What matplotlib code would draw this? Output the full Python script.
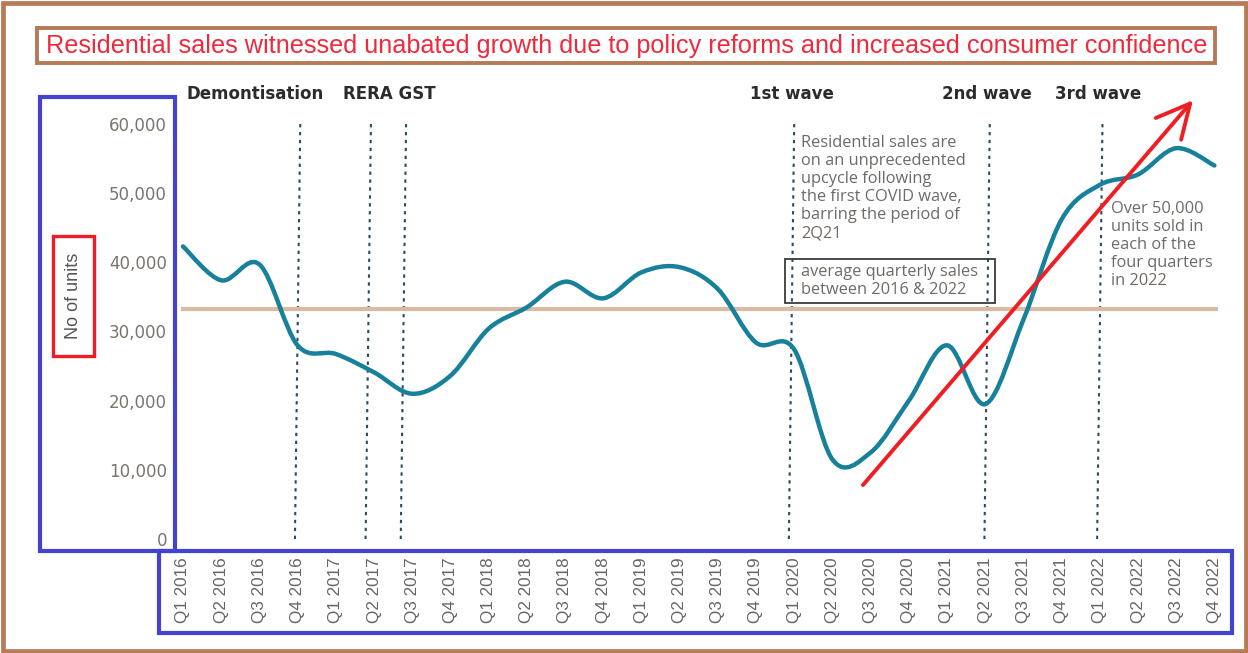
import matplotlib
matplotlib.use("Agg")
import matplotlib.pyplot as plt
import numpy as np
from matplotlib.path import Path
from matplotlib.patches import PathPatch, Rectangle

# DATA
years = [2016, 2017, 2018, 2019, 2020, 2021, 2022]
quarters = [f"Q{q} {y}" for y in years for q in range(1, 5)]
units = [42300, 37400, 39700, 28000, 26750, 24100, 21000, 23600,
         30400, 33500, 37200, 34800, 38550, 39300, 36150, 28400,
         27400, 11500, 12500, 20000, 28000, 19500, 31700, 46200,
         51200, 52700, 56500, 54000]
y_ticks = [0, 10000, 20000, 30000, 40000, 50000, 60000]

# events: label, quarter position of the dotted line
event_names = ["Demonetisation", "RERA", "GST", "1st wave", "2nd wave", "3rd wave"]
event_pos = [3.0, 4.85, 5.77, 15.93, 21.05, 24.0]

# header labels above the plot
header_labels = ["Demontisation", "RERA GST", "1st wave", "2nd wave", "3rd wave"]
header_pos = [1.88, 5.39, 15.94, 21.05, 23.95]

avg_units = np.mean(units)

W, H = 1248, 653
fig = plt.figure(figsize=(W / 100, H / 100), dpi=100)
fig.patch.set_facecolor("white")

def fx(px):
    return px / W

def fy(py):
    return 1 - py / H

# axes placement (pixels): q0 at 183, one quarter = 38.2 px, 0 at y=539, 60000 at y=124
X0, DX = 183, 38.2
ax = fig.add_axes([fx(172), fy(539), fx(1235) - fx(172), fy(124) - fy(539)])
ax.set_xlim((172 - X0) / DX, (1235 - X0) / DX)
ax.set_ylim(0, 60000)
for s in ax.spines.values():
    s.set_visible(False)

# average line
ax.hlines(avg_units, -0.05, len(units) - 0.9, color="#D8BBA2", lw=3, zorder=2)

# dotted event lines (slightly slanted like the original)
for p in event_pos:
    ax.plot([p - 0.07, p + 0.07], [0, 60000], color="#2D4B5B", lw=1.5,
            linestyle=(0, (1.6, 2.2)), zorder=1)

# smooth curve through the quarterly values (catmull-rom -> bezier)
xs = np.arange(len(units), dtype=float)
ys = np.array(units, dtype=float)
verts = [(xs[0], ys[0])]
codes = [Path.MOVETO]
n = len(xs)
for i in range(n - 1):
    i0 = max(i - 1, 0)
    i3 = min(i + 2, n - 1)
    c1 = (xs[i] + (xs[i + 1] - xs[i0]) / 6, ys[i] + (ys[i + 1] - ys[i0]) / 6)
    c2 = (xs[i + 1] - (xs[i3] - xs[i]) / 6, ys[i + 1] - (ys[i3] - ys[i]) / 6)
    verts += [c1, c2, (xs[i + 1], ys[i + 1])]
    codes += [Path.CURVE4] * 3
ax.add_patch(PathPatch(Path(verts, codes), fill=False, ec="#17809B", lw=3.2,
                       capstyle="round", zorder=4))

# ticks
ax.set_xticks(xs)
ax.set_xticklabels(quarters, rotation=90, fontfamily="Liberation Sans",
                   fontsize=12.3, color="#666666")
ax.set_yticks(y_ticks)
ax.set_yticklabels([f"{v:,}" for v in y_ticks], fontfamily="DejaVu Sans",
                   fontsize=12, color="#7a746e")
ax.tick_params(axis="x", length=0, pad=13)
ax.tick_params(axis="y", length=0, pad=3.6)

# header labels
for lab, p in zip(header_labels, header_pos):
    ax.text(p, 64330, lab, ha="center", va="center", fontsize=12,
            fontweight="bold", color="#2b2b2b", clip_on=False)

# annotations
note_color = "#6f6a66"
note_kw = dict(fontsize=11.8, fontfamily="Open Sans", color=note_color,
               linespacing=1.18, zorder=5)
ax.text(16.18, 58450,
        "Residential sales are\non an unprecedented\nupcycle following\nthe first COVID wave,\nbarring the period of\n2Q21",
        ha="left", va="top", **note_kw)
ax.text(16.18, 37250, "average quarterly sales\nbetween 2016 & 2022",
        ha="left", va="center", **note_kw)
ax.add_patch(Rectangle((15.76, 34120), 5.5, 6360, fill=False, ec="#3a3a3a",
                       lw=1.3, zorder=5))
ax.text(24.29, 48900,
        "Over 50,000\nunits sold in\neach of the\nfour quarters\nin 2022",
        ha="left", va="top", **note_kw)

# red hand-drawn arrow
ax.annotate("", xy=(26.44, 63440), xytext=(17.8, 7800),
            arrowprops=dict(arrowstyle="->,head_length=1.2,head_width=0.6",
                            color="#F01E23", lw=2.8, mutation_scale=20,
                            shrinkA=0, shrinkB=0),
            annotation_clip=False, zorder=6)

# figure decorations: frame, title box, highlight boxes
def frame(x0, y0, x1, y1, color, lw):
    fig.patches.append(Rectangle((fx(x0), fy(y1)), fx(x1) - fx(x0), fy(y0) - fy(y1),
                                 transform=fig.transFigure, fill=False,
                                 ec=color, lw=lw, zorder=10))

frame(3, 3, 1245.5, 650.5, "#B97A58", 3.4)
frame(37, 28, 1215, 63, "#B47A57", 2.8)
frame(40, 97, 175, 551, "#4343CF", 3)
frame(159, 551, 1232, 633, "#4343CF", 3)
frame(53, 236, 94, 356, "#EE1C25", 2.4)

title = fig.text(fx(627), fy(45.5),
                 "Residential sales witnessed unabated growth due to policy reforms and increased consumer confidence",
                 ha="center", va="center", fontsize=17, color="#EE2A3C",
                 fontfamily="Liberation Sans")
# fit title width to the box
fig.canvas.draw()
tw = title.get_window_extent().width
title.set_fontsize(17 * 1165 / tw)

fig.text(fx(73), fy(296), "No of units", rotation=90, ha="center", va="center",
         fontsize=13, color="#555555", fontfamily="Liberation Sans")

fig.savefig("out.png", dpi=100)
